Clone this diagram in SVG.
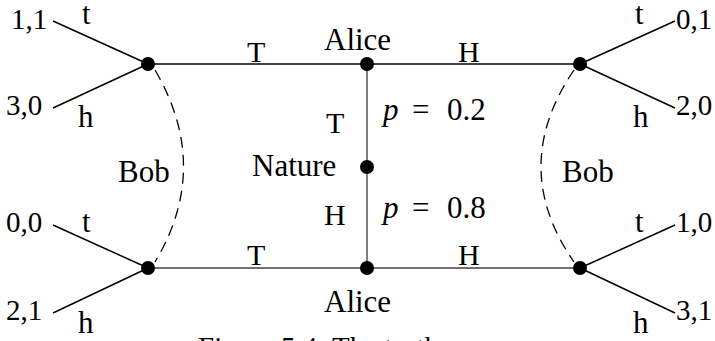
<svg xmlns="http://www.w3.org/2000/svg" width="715" height="341" viewBox="0 0 715 341" font-family="Liberation Serif, Times New Roman, serif" font-size="31">
<style>
.e{stroke:#000;stroke-width:1.5;fill:none}
.g{stroke:#707070;stroke-width:1.8;fill:none}
.d{stroke:#000;stroke-width:1.3;fill:none;stroke-dasharray:11 7}
.n{fill:#000}
.i{font-style:italic}
.num{font-size:29px}
.cap{font-size:30px}
</style>
<rect width="715" height="341" fill="#fff"/>
<g id="connectors">
<line class="e" x1="148" y1="64" x2="580" y2="64"/>
<line class="g" x1="367" y1="64" x2="367" y2="268"/>
<line class="g" x1="148" y1="268" x2="580" y2="268"/>
<line class="e" x1="53" y1="21" x2="148" y2="64"/>
<line class="e" x1="53" y1="108" x2="148" y2="64"/>
<line class="e" x1="675" y1="21" x2="580" y2="64"/>
<line class="e" x1="675" y1="108" x2="580" y2="64"/>
<line class="e" x1="53" y1="225" x2="148" y2="268"/>
<line class="e" x1="53" y1="313" x2="148" y2="268"/>
<line class="e" x1="675" y1="225" x2="580" y2="268"/>
<line class="e" x1="675" y1="313" x2="580" y2="268"/>
<path class="d" d="M155,70 Q212,167 155,262"/>
<path class="d" d="M574,70 Q508,167 574,262"/>
</g>
<g id="edge-labels">
<text class="cap" x="247" y="62">T</text>
<text class="cap" x="458" y="62">H</text>
<text class="cap" x="247" y="265">T</text>
<text class="cap" x="458" y="265">H</text>
<text class="cap" x="326" y="133">T</text>
<text class="cap" x="324" y="225">H</text>
<text x="383" y="120"><tspan class="i">p</tspan><tspan x="412">=</tspan><tspan x="447">0.2</tspan></text>
<text x="383" y="218"><tspan class="i">p</tspan><tspan x="412">=</tspan><tspan x="447">0.8</tspan></text>
<text x="82" y="24">t</text>
<text x="78" y="127">h</text>
<text x="82" y="232">t</text>
<text x="78" y="333">h</text>
<text x="635" y="24">t</text>
<text x="633" y="127">h</text>
<text x="635" y="232">t</text>
<text x="633" y="333">h</text>
<text x="118" y="182">Bob</text>
<text x="562" y="182">Bob</text>
</g>
<g id="alice-top"><circle class="n" cx="367" cy="64" r="7"/><text x="324" y="50">Alice</text></g>
<g id="alice-bottom"><circle class="n" cx="367" cy="268" r="7"/><text x="324" y="312">Alice</text></g>
<g id="nature"><circle class="n" cx="367" cy="167" r="7"/><text x="252" y="176">Nature</text></g>
<g id="bob-tl"><circle class="n" cx="148" cy="64" r="7"/></g>
<g id="bob-bl"><circle class="n" cx="148" cy="268" r="7"/></g>
<g id="bob-tr"><circle class="n" cx="580" cy="64" r="7"/></g>
<g id="bob-br"><circle class="n" cx="580" cy="268" r="7"/></g>
<g id="payoffs" class="num">
<text x="11" y="29">1,1</text>
<text x="6" y="115">3,0</text>
<text x="6" y="232">0,0</text>
<text x="6" y="320">2,1</text>
<text x="676" y="29">0,1</text>
<text x="676" y="115">2,0</text>
<text x="676" y="232">1,0</text>
<text x="676" y="320">3,1</text>
</g>
<text x="198" y="357" font-size="29">Figure 5.4: The truth</text>
</svg>
